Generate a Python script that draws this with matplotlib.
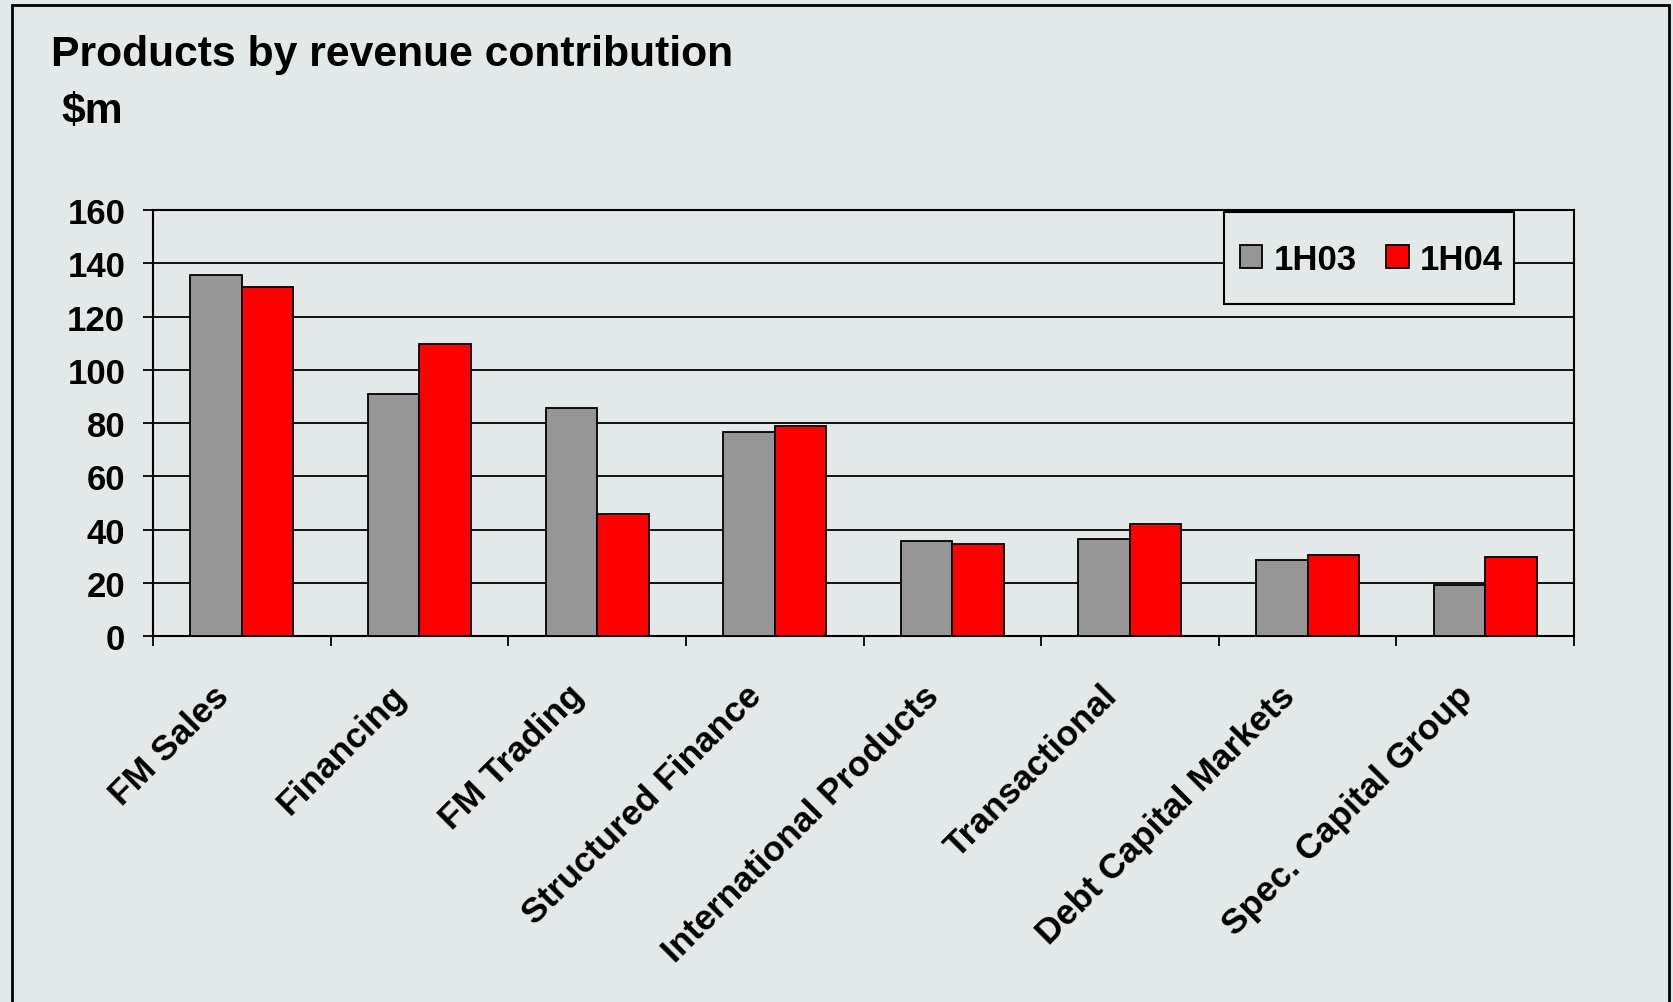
import matplotlib
matplotlib.use("Agg")
import matplotlib.pyplot as plt
import matplotlib.transforms as mtransforms
import numpy as np
from matplotlib.patches import Rectangle

plt.rcParams['font.family'] = ['Liberation Sans', 'DejaVu Sans']
plt.rcParams['font.weight'] = 'bold'

# --- Data ($m) ---
products = [
    "FM Sales",
    "Financing",
    "FM Trading",
    "Structured Finance",
    "International Products",
    "Transactional",
    "Debt Capital Markets",
    "Spec. Capital Group",
]
series_labels = ["1H03", "1H04"]
rev_1h03 = [135.5, 91, 85.5, 76.5, 35.5, 36.5, 28.5, 19]
rev_1h04 = [131, 109.5, 46, 79, 34.5, 42, 30.5, 29.5]
y_ticks = [0, 20, 40, 60, 80, 100, 120, 140, 160]

BG = '#E3E9E8'
GREY = '#969696'
RED = '#FF0000'

fig = plt.figure(figsize=(16.74, 10.03), dpi=100, facecolor=BG)
ax = fig.add_axes([0.0914, 0.3649, 0.8489, 0.4247])
ax.set_facecolor(BG)

# outer frame round the whole slide panel
fig.patches.append(Rectangle((12 / 1674, -0.05), (1669 - 12) / 1674, 1.05 - 6 / 1003,
                             transform=fig.transFigure, fill=False,
                             edgecolor='black', linewidth=2))

x = np.arange(len(products))
w = 0.29
ax.bar(x - w / 2, rev_1h03, width=w, color=GREY, edgecolor='black', linewidth=1.3,
       label=series_labels[0], zorder=3)
ax.bar(x + w / 2, rev_1h04, width=w, color=RED, edgecolor='black', linewidth=1.3,
       label=series_labels[1], zorder=3)

ax.set_xlim(-0.5, len(products) - 0.5)
ax.set_ylim(0, 160)
ax.set_yticks(y_ticks)
ax.yaxis.grid(True, color='black', linewidth=1.3, zorder=0)
ax.set_axisbelow(True)

for s in ax.spines.values():
    s.set_linewidth(1.5)
    s.set_color('black')

# tick marks on category boundaries, labels at category centres
ax.set_xticks(np.arange(-0.5, len(products), 1.0))
ax.set_xticklabels([])
ax.set_xticks(x, minor=True)
ax.set_xticklabels(products, minor=True, rotation=45, ha='right', va='center',
                   rotation_mode='anchor', fontsize=25.5, fontweight='bold')
ax.tick_params(axis='x', which='major', direction='out', length=7, width=1.3)
ax.tick_params(axis='x', which='minor', length=0, pad=39)
shift = mtransforms.ScaledTranslation(-18 / 100, 0, fig.dpi_scale_trans)
for t in ax.get_xticklabels(minor=True):
    t.set_transform(t.get_transform() + shift)

ax.tick_params(axis='y', direction='out', length=7, width=1.3, pad=13, labelsize=25)
for t in ax.get_yticklabels():
    t.set_fontweight('bold')

# legend box
ax.add_patch(Rectangle((0.7537, 0.779), 0.9578 - 0.7537, 0.9953 - 0.779,
                       transform=ax.transAxes, facecolor=BG, edgecolor='black',
                       linewidth=1.5, zorder=4))
leg = ax.legend(loc='center', bbox_to_anchor=(0.8575, 0.884), ncol=2, frameon=False,
                borderpad=0, handlelength=0.64, handleheight=0.64,
                handletextpad=0.33, columnspacing=0.85,
                prop={'size': 25, 'weight': 'bold'})
leg.set_zorder(5)

fig.text(51 / 1674, 1 - 66 / 1003, "Products by revenue contribution",
         fontsize=30.7, fontweight='bold', va='baseline', ha='left')
fig.text(61 / 1674, 1 - 123 / 1003, "$m",
         fontsize=30.7, fontweight='bold', va='baseline', ha='left')

fig.savefig("out.png", dpi=100, facecolor=BG)
